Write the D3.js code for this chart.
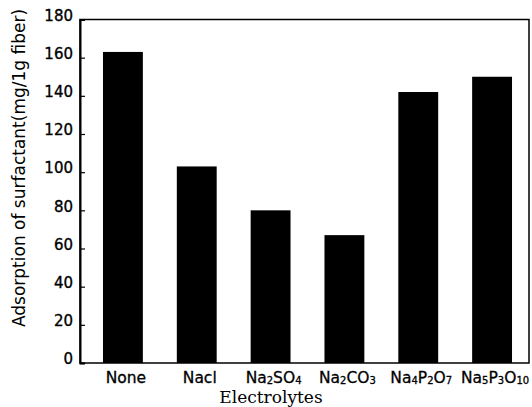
<!DOCTYPE html>
<html>
<head>
<meta charset="utf-8">
<script src="https://cdn.jsdelivr.net/npm/d3@7"></script>
<style>
  html, body { margin: 0; padding: 0; background: #fff; }
  svg { display: block; }
</style>
</head>
<body>
<svg id="chart" width="532" height="407"></svg>
<script>
// Electrolyte categories, with chemical formula parts: [text, isSubscript]
const categories = ["None", "Nacl", "Na2SO4", "Na2CO3", "Na4P2O7", "Na5P3O10"];
const labelParts = [
  [["None", false]],
  [["Nacl", false]],
  [["Na", false], ["2", true], ["SO", false], ["4", true]],
  [["Na", false], ["2", true], ["CO", false], ["3", true]],
  [["Na", false], ["4", true], ["P", false], ["2", true], ["O", false], ["7", true]],
  [["Na", false], ["5", true], ["P", false], ["3", true], ["O", false], ["10", true]]
];
// Adsorption of surfactant (mg per 1 g fiber)
const adsorption = [163, 103, 80, 67, 142, 150];
const yTicks = [0, 20, 40, 60, 80, 100, 120, 140, 160, 180];

const svg = d3.select("#chart");
const plot = { left: 80, right: 529, top: 19.5, bottom: 363 };

const x = d3.scaleBand()
  .domain(categories)
  .range([86, plot.right])
  .paddingInner(0.46)
  .paddingOuter(0.23);

const y = d3.scaleLinear()
  .domain([0, 180])
  .range([plot.bottom, plot.top]);

// Bars
svg.append("g")
  .selectAll("rect")
  .data(categories)
  .join("rect")
  .attr("x", d => x(d))
  .attr("width", x.bandwidth())
  .attr("y", (d, i) => y(adsorption[i]))
  .attr("height", (d, i) => y(0) - y(adsorption[i]))
  .attr("fill", "#000");

// Frame around the plot area
svg.append("rect")
  .attr("x", plot.left)
  .attr("y", plot.top)
  .attr("width", plot.right - plot.left)
  .attr("height", plot.bottom - plot.top)
  .attr("fill", "none")
  .attr("stroke", "#000")
  .attr("stroke-width", 1.5);

// Y axis with inward ticks
const yAxis = svg.append("g")
  .attr("transform", `translate(${plot.left},0)`)
  .call(d3.axisLeft(y).tickValues(yTicks).tickSize(-5).tickPadding(7).tickFormat(d3.format("d")));
yAxis.select(".domain").attr("stroke", "#000").attr("stroke-width", 2);
yAxis.selectAll(".tick line").attr("stroke", "#000").attr("stroke-width", 1.2);
yAxis.selectAll(".tick text")
  .attr("font-family", "DejaVu Sans")
  .attr("font-size", 15)
  .attr("fill", "#000")
  .attr("stroke", "#000")
  .attr("stroke-width", 0.35)
  .attr("dy", "0.05em");

// X category labels with subscripts
const xLabels = svg.append("g");
categories.forEach((c, i) => {
  const t = xLabels.append("text")
    .attr("x", x(c) + x.bandwidth() / 2 + 3)
    .attr("y", 383)
    .attr("text-anchor", "middle")
    .attr("font-family", "DejaVu Sans")
    .attr("font-size", 15.5)
    .attr("fill", "#000")
    .attr("stroke", "#000")
    .attr("stroke-width", 0.3);
  labelParts[i].forEach(([s, sub]) => {
    const ts = t.append("tspan").text(s);
    if (sub) ts.attr("font-size", 10).attr("dy", 1);
    else ts.attr("dy", t.selectAll("tspan").size() > 1 ? -1 : 0);
  });
});

// Axis titles
svg.append("text")
  .attr("x", 271)
  .attr("y", 403)
  .attr("text-anchor", "middle")
  .attr("font-family", "DejaVu Serif")
  .attr("font-size", 17)
  .attr("fill", "#000")
  .text("Electrolytes");

svg.append("text")
  .attr("transform", "translate(25,168) rotate(-90)")
  .attr("text-anchor", "middle")
  .attr("font-family", "DejaVu Sans")
  .attr("font-size", 17)
  .attr("fill", "#000")
  .text("Adsorption of surfactant(mg/1g fiber)");
</script>
</body>
</html>
